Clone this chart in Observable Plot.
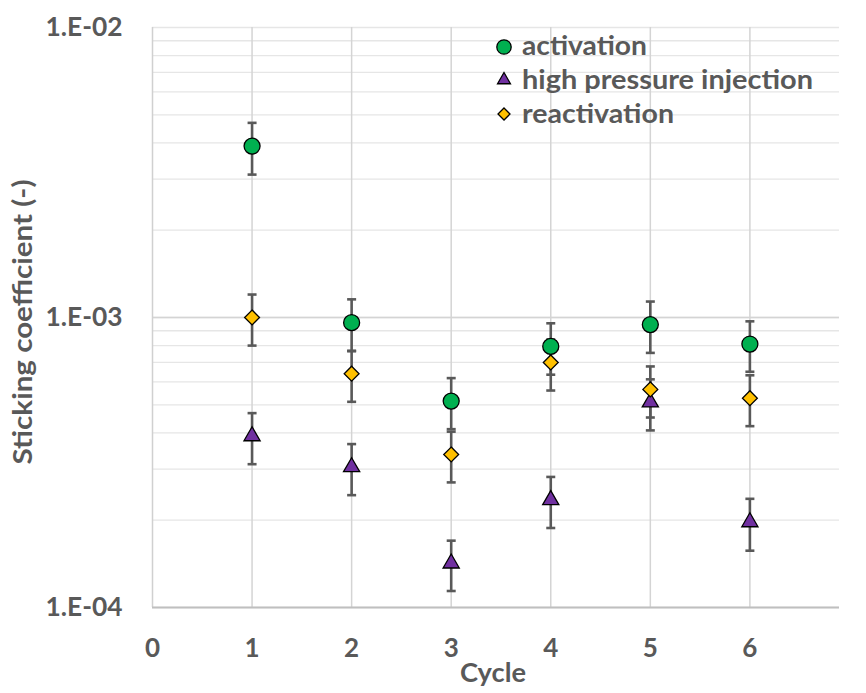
<!DOCTYPE html>
<html><head><meta charset="utf-8">
<script src="https://cdn.jsdelivr.net/npm/d3@7"></script>
<script src="https://cdn.jsdelivr.net/npm/@observablehq/plot@0.6"></script>
<style>
body{margin:0;background:#fff;}
#chart{position:relative;width:866px;height:693px;}
</style></head>
<body><div id="chart"></div>
<script>
const cycles = [1, 2, 3, 4, 5, 6];
const activation = [3.9e-3, 9.6e-4, 5.15e-4, 7.95e-4, 9.45e-4, 8.1e-4];
const activationErr = [7.9e-4, 1.95e-4, 1.03e-4, 1.6e-4, 1.9e-4, 1.6e-4];
const hpi = [3.9e-4, 3.05e-4, 1.42e-4, 2.35e-4, 5.1e-4, 1.97e-4];
const hpiErr = [7.8e-5, 6.1e-5, 2.8e-5, 4.7e-5, 1.02e-4, 4.0e-5];
const reactivation = [1.0e-3, 6.4e-4, 3.37e-4, 7.0e-4, 5.65e-4, 5.27e-4];
const reactivationErr = [2.0e-4, 1.28e-4, 6.7e-5, 1.4e-4, 1.13e-4, 1.05e-4];
const seriesNames = ["activation", "high pressure injection", "reactivation"];
const seriesColors = ["#00B050", "#7030A0", "#FFC000"];
const xTicks = [0, 1, 2, 3, 4, 5, 6];
const yTicks = [1e-4, 1e-3, 1e-2];
const yTickLabels = ["1.E-04", "1.E-03", "1.E-02"];

const seriesVals = [activation, hpi, reactivation];
const seriesErrs = [activationErr, hpiErr, reactivationErr];
const rows = [];
seriesNames.forEach((s, i) => cycles.forEach((c, j) => rows.push({
  series: s, cycle: c, value: seriesVals[i][j],
  lo: seriesVals[i][j] - seriesErrs[i][j], hi: seriesVals[i][j] + seriesErrs[i][j]
})));
const bySeries = s => rows.filter(d => d.series === s);

const cap = {draw(ctx) { ctx.moveTo(-4.5, 0); ctx.lineTo(4.5, 0); }};
const minorTicks = d3.scaleLog().domain([1e-4, 1e-2]).ticks();
const labelColor = "#595959";
const FONT = "Lato, 'Open Sans', sans-serif";

const plot = Plot.plot({
  width: 866, height: 693,
  marginLeft: 152, marginRight: 27, marginTop: 27, marginBottom: 86,
  style: {fontFamily: FONT, fontWeight: "bold", color: labelColor, background: "#fff"},
  x: {domain: [0, 6.9]},
  y: {type: "log", domain: [1e-4, 1e-2]},
  marks: [
    Plot.gridY(minorTicks, {stroke: "#e6e6e6", strokeOpacity: 1, strokeWidth: 1.3}),
    Plot.gridY([1e-3], {stroke: "#d4d4d4", strokeOpacity: 1, strokeWidth: 1.5}),
    Plot.gridX(cycles, {stroke: "#d4d4d4", strokeOpacity: 1, strokeWidth: 1.5}),
    Plot.ruleX([0], {stroke: "#d0d0d0", strokeWidth: 1.5}),
    Plot.ruleY([1e-4], {stroke: "#bfbfbf", strokeWidth: 2}),
    Plot.axisY({ticks: yTicks, tickFormat: d => yTickLabels[yTicks.indexOf(d)], tickSize: 0, tickPadding: 30, fontSize: 26, fill: labelColor, label: null}),
    Plot.axisX({ticks: xTicks, tickFormat: d => String(d), tickSize: 0, tickPadding: 31, fontSize: 26, fill: labelColor, label: null}),
    Plot.ruleX(rows, {x: "cycle", y1: "lo", y2: "hi", stroke: "#595959", strokeWidth: 2.6}),
    Plot.dot(rows, {x: "cycle", y: "lo", symbol: cap, stroke: "#595959", strokeWidth: 2.6, r: 4}),
    Plot.dot(rows, {x: "cycle", y: "hi", symbol: cap, stroke: "#595959", strokeWidth: 2.6, r: 4}),
    Plot.dot(bySeries(seriesNames[0]), {x: "cycle", y: "value", symbol: "circle", r: 8, fill: seriesColors[0], stroke: "#000", strokeWidth: 1.3}),
    Plot.dot(bySeries(seriesNames[1]), {x: "cycle", y: "value", symbol: "triangle", r: 6, fill: seriesColors[1], stroke: "#000", strokeWidth: 1.3}),
    Plot.dot(bySeries(seriesNames[2]), {x: "cycle", y: "value", symbol: "diamond2", r: 6.7, fill: seriesColors[2], stroke: "#000", strokeWidth: 1.3})
  ]
});
document.getElementById("chart").appendChild(plot);

const svg = d3.select(plot);
svg.selectAll('g[aria-label="y-axis tick label"] text').attr("textLength", 77).attr("lengthAdjust", "spacingAndGlyphs");
// axis titles
svg.append("text").attr("x", 493).attr("y", 682).attr("text-anchor", "middle")
  .attr("font-family", FONT).attr("font-weight", "bold").attr("font-size", 27)
  .attr("textLength", 66).attr("lengthAdjust", "spacingAndGlyphs")
  .attr("fill", labelColor).text("Cycle");
svg.append("text").attr("transform", "translate(32,322) rotate(-90)").attr("text-anchor", "middle")
  .attr("font-family", FONT).attr("font-weight", "bold").attr("font-size", 26)
  .attr("textLength", 285).attr("lengthAdjust", "spacingAndGlyphs")
  .attr("fill", labelColor).text("Sticking coefficient (-)");
// legend
const lg = svg.append("g").attr("font-family", FONT).attr("font-weight", "bold").attr("font-size", 26)
  .attr("fill", labelColor).attr("text-anchor", "start");
const shapes = [d3.symbolCircle, d3.symbolTriangle, d3.symbolDiamond2];
const sizes = [Math.PI * 7.2 * 7.2, Math.PI * 4.8 * 4.8, Math.PI * 5.4 * 5.4];
const legendY = [47, 80, 114];
const legendBase = [55, 89, 123];
const legendLen = [125, 291, 152];
seriesNames.forEach((s, i) => {
  lg.append("path").attr("d", d3.symbol(shapes[i], sizes[i])()).attr("transform", `translate(504,${legendY[i]})`)
    .attr("fill", seriesColors[i]).attr("stroke", "#000").attr("stroke-width", 1.3);
  lg.append("text").attr("x", 522).attr("y", legendBase[i]).attr("textLength", legendLen[i])
    .attr("lengthAdjust", "spacingAndGlyphs").text(s);
});
</script></body></html>
